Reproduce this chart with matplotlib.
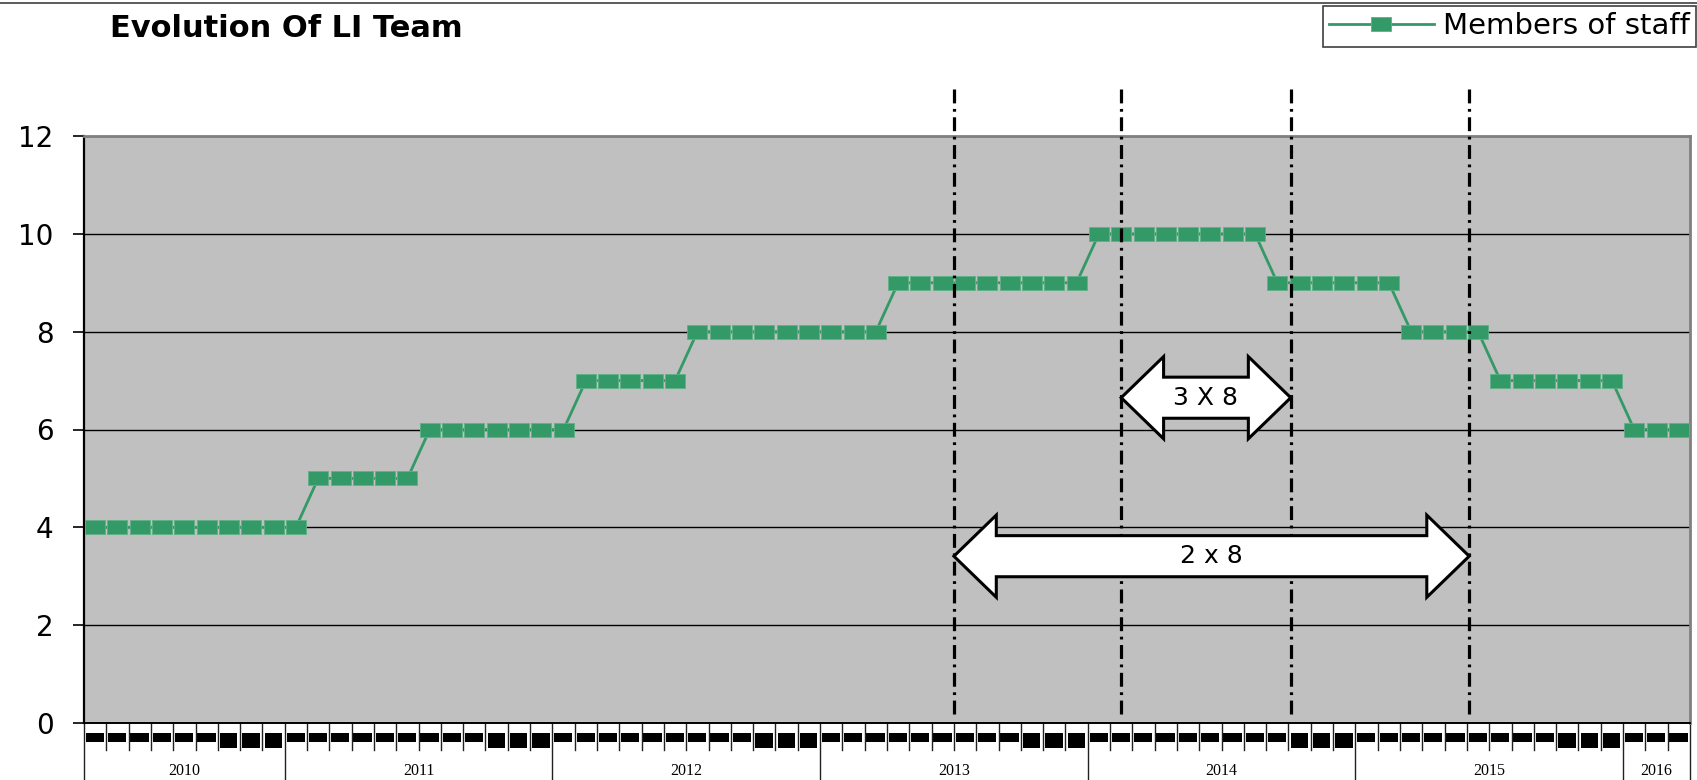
"""Evolution of LI team - members of staff per month"""
import matplotlib
matplotlib.use("Agg")
from matplotlib import pyplot as plt
from matplotlib.patches import Polygon, Rectangle
from matplotlib.lines import Line2D
import matplotlib.transforms as mtransforms

plt.rcParams["font.family"] = ["DejaVu Sans"]
plt.rcParams["lines.scale_dashes"] = False

# monthly head count, April 2010 .. March 2016
staff = [4, 4, 4, 4, 4, 4, 4, 4, 4, 4,
         5, 5, 5, 5, 5,
         6, 6, 6, 6, 6, 6, 6,
         7, 7, 7, 7, 7,
         8, 8, 8, 8, 8, 8, 8, 8, 8,
         9, 9, 9, 9, 9, 9, 9, 9, 9,
         10, 10, 10, 10, 10, 10, 10, 10,
         9, 9, 9, 9, 9, 9,
         8, 8, 8, 8,
         7, 7, 7, 7, 7, 7,
         6, 6, 6]
years = ["2010", "2011", "2012", "2013", "2014", "2015", "2016"]
months_in_year = [9, 12, 12, 12, 12, 12, 3]
first_month = 4
yticks = [0, 2, 4, 6, 8, 10, 12]

# shift markers (month positions) and the two shift arrows
shift_lines = [38.5, 46.0, 53.6, 61.6]
arrows = [(46.0, 53.6, 6.65, "3 X 8"), (38.5, 61.6, 3.41, "2 x 8")]

GREEN = "#339966"
H = 587.0  # axes height in px, used to place the month/year bands


def px(y):
    """pixels below the x axis -> axes fraction"""
    return -y / H


def double_arrow(ax, x0, x1, yc, label, head=1.9, hh=0.84, sh=0.42):
    pts = [(x0, yc), (x0 + head, yc + hh), (x0 + head, yc + sh),
           (x1 - head, yc + sh), (x1 - head, yc + hh), (x1, yc),
           (x1 - head, yc - hh), (x1 - head, yc - sh), (x0 + head, yc - sh),
           (x0 + head, yc - hh)]
    ax.add_patch(Polygon(pts, closed=True, facecolor="white", edgecolor="black",
                         lw=2.2, zorder=6, clip_on=False, joinstyle="miter"))
    ax.text((x0 + x1) / 2, yc, label, ha="center", va="center", fontsize=18,
            zorder=7)


fig = plt.figure(figsize=(16.97, 7.8), dpi=100)
ax = fig.add_axes([84 / 1697, 57 / 780, 1606 / 1697, H / 780])
ax.set_facecolor("#c0c0c0")

x = list(range(len(staff)))
rect = [(-1, -0.68), (1, -0.68), (1, 0.68), (-1, 0.68), (-1, -0.68)]
ax.plot(x, staff, color=GREEN, lw=2.0, marker=rect, markersize=14.5,
        markerfacecolor=GREEN, markeredgecolor="#5fb086", markeredgewidth=0.6,
        label="Members of staff", zorder=3)

ax.set_xlim(-0.5, len(staff) - 0.5)
ax.set_ylim(0, 12)
ax.set_yticks(yticks)
ax.set_xticks([])
ax.yaxis.grid(True, color="black", lw=1.0)
ax.set_axisbelow(True)
ax.tick_params(axis="y", direction="out", length=8, width=1.2, pad=14,
               labelsize=20)
for side in ["top", "right"]:
    ax.spines[side].set_color("#808080")
    ax.spines[side].set_linewidth(2)
ax.spines["left"].set_linewidth(1.6)
ax.spines["bottom"].set_linewidth(1.4)

# dash-dot shift boundaries, running up above the plot area
for xv in shift_lines:
    ax.plot([xv, xv], [0.18, 13.04], color="black", lw=2.3,
            dashes=(10, 4, 2, 4), zorder=5, clip_on=False)

for x0, x1, yc, label in arrows:
    double_arrow(ax, x0, x1, yc, label)

# month band and year band under the x axis
trans = mtransforms.blended_transform_factory(ax.transData, ax.transAxes)
i = 0
for year, n in zip(years, months_in_year):
    start = i
    ax.plot([start - 0.5, start - 0.5], [0, px(57)], color="#202020", lw=1,
            transform=trans, clip_on=False)
    for k in range(n):
        month = (first_month - 1 + i) % 12 + 1
        if k > 0:
            ax.plot([i - 0.5, i - 0.5], [0, px(27)], color="#202020", lw=1,
                    transform=trans, clip_on=False)
        if month >= 10:
            blob = Rectangle((i - 0.40, px(25)), 0.78, px(10) - px(25))
        else:
            blob = Rectangle((i - 0.42, px(19)), 0.82, px(10) - px(19))
        blob.set(facecolor="black", edgecolor="none", transform=trans,
                 clip_on=False)
        ax.add_patch(blob)
        i += 1
    ax.text((start + i - 1) / 2, px(48), year, transform=trans, ha="center",
            va="center", fontsize=11.5, family="Liberation Serif",
            clip_on=False)
ax.plot([i - 0.5, i - 0.5], [0, px(57)], color="#202020", lw=1,
        transform=trans, clip_on=False)

fig.text(110 / 1697, 1 - 37 / 780, "Evolution Of LI Team", fontsize=22,
         fontweight="bold", ha="left", va="baseline")
fig.add_artist(Line2D([0, 1], [1 - 2.5 / 780] * 2, color="#404040", lw=1.2,
                      transform=fig.transFigure))

leg = fig.legend(loc="upper right", bbox_to_anchor=(1696 / 1697, 1 - 6 / 780),
                 borderaxespad=0, fontsize=21, handlelength=3.6,
                 handletextpad=0.3, borderpad=0.22, fancybox=False,
                 framealpha=1, edgecolor="#404040", numpoints=1)
leg.get_frame().set_linewidth(1.2)

plt.savefig("out.png", dpi=100)
plt.close()
